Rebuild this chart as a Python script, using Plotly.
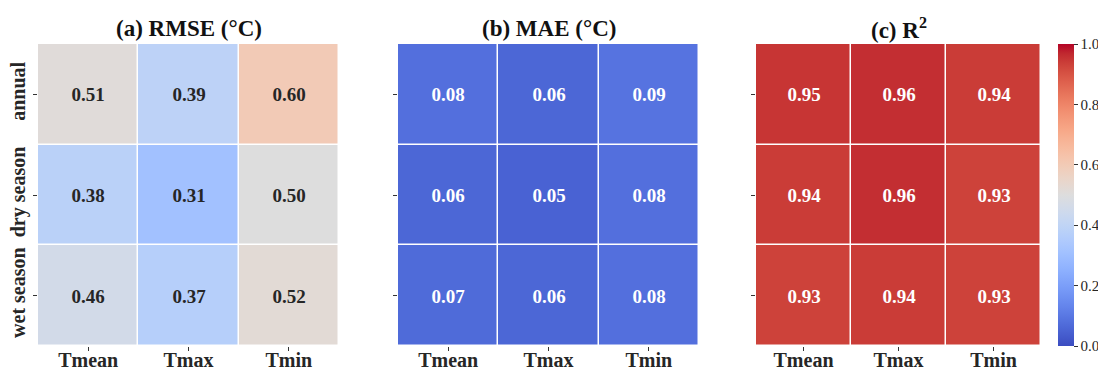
import plotly.graph_objects as go

variables = ["Tmean", "Tmax", "Tmin"]
periods = ["annual", "dry season", "wet season"]
rmse = [[0.51, 0.39, 0.60], [0.38, 0.31, 0.50], [0.46, 0.37, 0.52]]
mae = [[0.08, 0.06, 0.09], [0.06, 0.05, 0.08], [0.07, 0.06, 0.08]]
r2 = [[0.95, 0.96, 0.94], [0.94, 0.96, 0.93], [0.93, 0.94, 0.93]]
titles = ["(a) RMSE (°C)", "(b) MAE (°C)", "(c) R<sup>2</sup>"]
cbar_ticks = [0.0, 0.2, 0.4, 0.6, 0.8, 1.0]

cw = [
    (0.0, (59, 76, 192)), (0.03125, (68, 90, 204)), (0.0625, (77, 104, 215)),
    (0.09375, (87, 117, 225)), (0.125, (98, 130, 234)), (0.15625, (108, 142, 241)),
    (0.1875, (119, 154, 247)), (0.21875, (130, 165, 251)), (0.25, (141, 176, 254)),
    (0.28125, (152, 185, 255)), (0.3125, (163, 194, 255)), (0.34375, (174, 201, 253)),
    (0.375, (184, 208, 249)), (0.40625, (194, 213, 244)), (0.4375, (204, 217, 238)),
    (0.46875, (213, 219, 230)), (0.5, (221, 221, 221)), (0.53125, (229, 216, 209)),
    (0.5625, (236, 211, 197)), (0.59375, (241, 204, 184)), (0.625, (245, 196, 172)),
    (0.65625, (247, 187, 159)), (0.6875, (247, 177, 147)), (0.71875, (247, 166, 134)),
    (0.75, (244, 154, 123)), (0.78125, (241, 141, 111)), (0.8125, (236, 127, 99)),
    (0.84375, (229, 112, 88)), (0.875, (222, 96, 77)), (0.90625, (213, 80, 66)),
    (0.9375, (203, 62, 56)), (0.96875, (192, 40, 47)), (1.0, (180, 4, 38)),
]
colorscale = [[p, "rgb(%d,%d,%d)" % c] for p, c in cw]

OFF = 8  # page body margin
W, H = 1106 - OFF, 372 - OFF
ML, MR, MT, MB = 22, 50, 30, 20
PW, PH = W - ML - MR, H - MT - MB
FONT = "Liberation Serif, Times New Roman, serif"
panels_px = [(38, 339), (398, 699), (756, 1041)]
top_px, bot_px = 44, 346


def fx(px):
    return (px - OFF - ML) / PW


def fy(py):
    return 1 - (py - OFF - MT) / PH


ydom = [fy(bot_px), fy(top_px)]

fig = go.Figure()
datas = [rmse, mae, r2]
text_colors = ["#262626", "white", "white"]
for i, z in enumerate(datas):
    n = "" if i == 0 else str(i + 1)
    fig.add_trace(go.Heatmap(
        z=z, x=variables, y=periods,
        zmin=0, zmax=1, colorscale=colorscale,
        xgap=1.5, ygap=1.5,
        texttemplate="%{z:.2f}",
        textfont=dict(family=FONT, size=19, color=text_colors[i], weight="bold"),
        showscale=(i == 2),
        colorbar=dict(
            x=fx(1058), xanchor="left", xpad=0, ypad=0,
            thickness=16, thicknessmode="pixels",
            y=ydom[0], yanchor="bottom", len=ydom[1] - ydom[0], lenmode="fraction",
            outlinewidth=0, tickvals=cbar_ticks, ticktext=["%.1f" % t for t in cbar_ticks],
            ticks="outside", ticklen=4, tickcolor="#333",
            tickfont=dict(family=FONT, size=15, color="#262626"),
        ),
        xaxis="x" + n, yaxis="y" + n,
        hoverinfo="skip",
    ))
    x0, x1 = panels_px[i]
    fig.layout["xaxis" + n] = dict(
        domain=[fx(x0), fx(x1)], anchor="y" + n,
        ticks="outside", ticklen=4, tickcolor="#333", showgrid=False, zeroline=False,
        tickfont=dict(family=FONT, size=20, color="#262626", weight="bold"),
        ticklabelstandoff=-8,
        fixedrange=True, automargin=False,
    )
    fig.layout["yaxis" + n] = dict(
        domain=ydom, anchor="x" + n, autorange="reversed",
        ticks="outside", ticklen=4, tickcolor="#333", showgrid=False, zeroline=False,
        showticklabels=(i == 0), tickangle=-90,
        tickfont=dict(family=FONT, size=20, color="#262626", weight="bold"),
        fixedrange=True, automargin=False,
    )
    fig.add_annotation(
        text=titles[i], x=fx((x0 + x1) / 2), y=fy(29), xref="paper", yref="paper",
        showarrow=False, xanchor="center", yanchor="middle",
        font=dict(family=FONT, size=23, color="#111", weight="bold"),
    )

fig.update_layout(
    width=W, height=H, margin=dict(l=ML, r=MR, t=MT, b=MB, autoexpand=False),
    paper_bgcolor="white", plot_bgcolor="white",
)
fig.write_html("out.html")
